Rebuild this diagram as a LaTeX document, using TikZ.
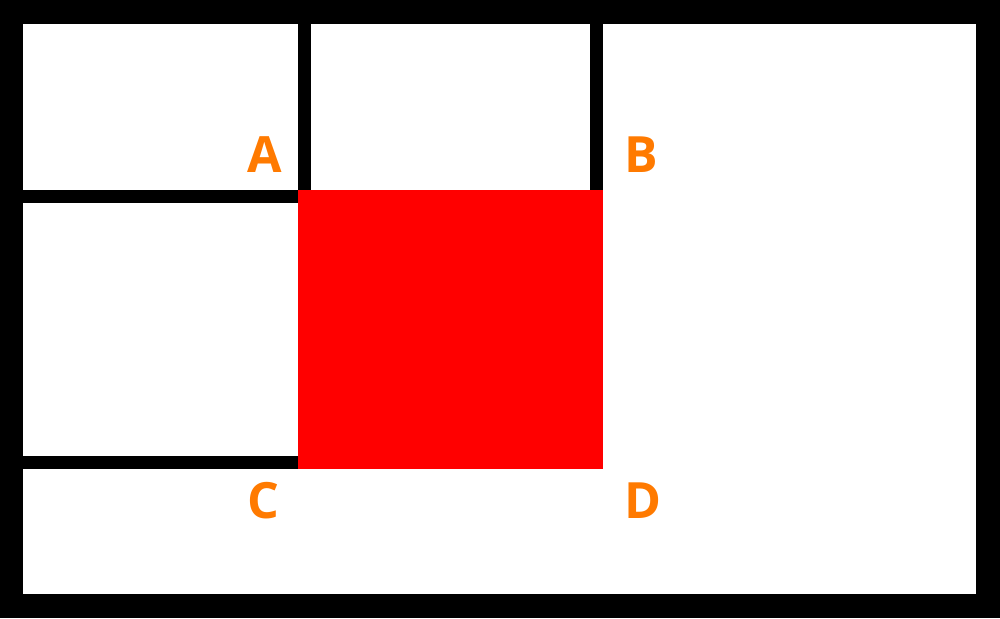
\documentclass[tikz,border=0pt]{standalone}
\usepackage{fontspec}
\setmainfont{Open Sans}
\usetikzlibrary{positioning}
\definecolor{labelorange}{RGB}{255,122,0}
\definecolor{cellred}{RGB}{255,0,0}
\tikzset{
	cornerlabel/.style={anchor=base, text=labelorange, inner sep=0pt, font=\fontsize{50}{50}\selectfont\bfseries},
	wall/.style={fill=black, draw=none}
}
\begin{document}
\begin{tikzpicture}[x=1pt, y=-1pt]
	\useasboundingbox (0,0) rectangle (1000,618);
	% Marco exterior
	\fill[black] (0,0) rectangle (1000,618);
	\fill[white] (23,24) rectangle (976,594);

	% Celda roja
	\fill[cellred] (298,190) rectangle (603,469);

	% Paredes interiores
	\fill[wall] (298,24) rectangle (311,190);
	\fill[wall] (590,24) rectangle (603,190);
	\fill[wall] (23,190) rectangle (298,203);
	\fill[wall] (23,456) rectangle (298,469);

	% Etiquetas de las esquinas
	\node[cornerlabel] (A) at (264.5,172) {A};
	\node[cornerlabel] (B) at (641,172) {B};
	\node[cornerlabel] (C) at (263,518) {C};
	\node[cornerlabel] (D) at (643,518) {D};
\end{tikzpicture}
\end{document}
